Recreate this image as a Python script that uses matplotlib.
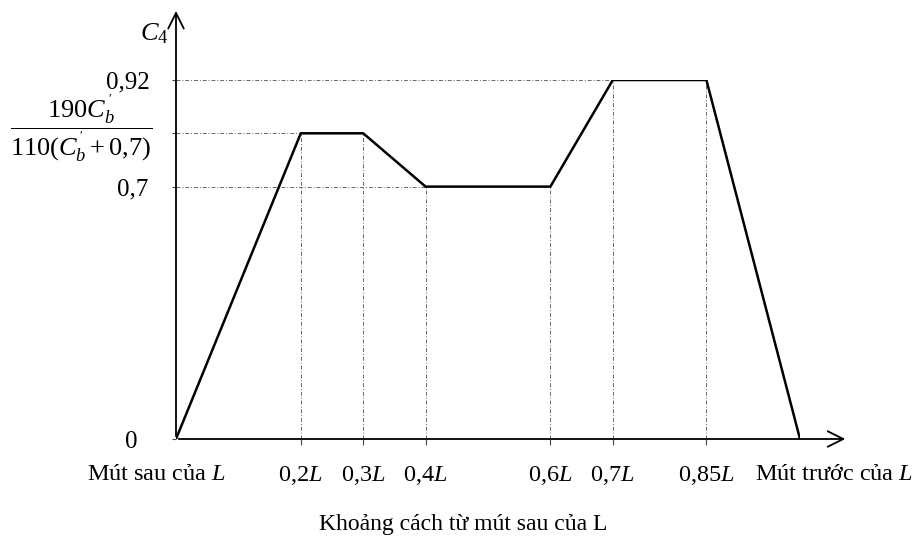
import matplotlib.pyplot as plt
import numpy as np

plt.rcParams['font.family'] = ['Liberation Serif', 'DejaVu Serif']
plt.rcParams['mathtext.fontset'] = 'custom'
plt.rcParams['mathtext.rm'] = 'Liberation Serif'
plt.rcParams['mathtext.it'] = 'Liberation Serif:italic'

# ---------------- data ----------------
x_pos = [0, 0.2, 0.3, 0.4, 0.6, 0.7, 0.85, 1.0]
c4 = [0, 0.81, 0.81, 0.7, 0.7, 0.92, 0.92, 0]

x_ticks = [0.2, 0.3, 0.4, 0.6, 0.7, 0.85]
x_labels = ["0,2$\\mathit{L}$", "0,3$\\mathit{L}$", "0,4$\\mathit{L}$",
            "0,6$\\mathit{L}$", "0,7$\\mathit{L}$", "0,85$\\mathit{L}$"]
end_labels = ["Mút sau của $\\mathit{L}$", "Mút trước của $\\mathit{L}$"]

y_ticks = [0, 0.7, 0.81, 0.92]
y_labels = ["0", "0,7", "", "0,92"]
frac_label = r"$\dfrac{190C_b^{\,'}}{110(C_b^{\,'}+0{,}7)}$"

# guide lines: (x where the level meets the curve, level)
h_guides = [(0.2, 0.81), (0.4, 0.7), (0.7, 0.92)]
v_guides = [(0.2, 0.81), (0.3, 0.81), (0.4, 0.7), (0.6, 0.7), (0.7, 0.92), (0.85, 0.92)]

# the drawing's vertical axis is not to scale
y_src = [-1, 0, 0.7, 0.92, 3]
y_dst = [-1, 0, 0.703, 1.0, 1.0 + (3 - 0.92) * 0.297 / 0.22]


def fwd(y):
    return np.interp(y, y_src, y_dst)


def inv(y):
    return np.interp(y, y_dst, y_src)


W, H = 916, 537
fig = plt.figure(figsize=(W / 100, H / 100), dpi=100)
ax = fig.add_axes([176 / W, 98 / H, 624 / W, 359 / H])
ax.set_yscale('function', functions=(fwd, inv))
ax.set_xlim(0, 1)
ax.set_ylim(0, 0.92)
for s in ax.spines.values():
    s.set_visible(False)

guide = dict(color='#666666', lw=0.7, ls=(0, (4, 2, 1, 2)))
for gx, gy in h_guides:
    ax.plot([0, gx], [gy, gy], **guide)
for gx, gy in v_guides:
    ax.plot([gx, gx], [0, gy], **guide)

ax.plot(x_pos, c4, color='black', lw=1.8, solid_joinstyle='miter')

# axes with arrows
arrow = dict(arrowstyle='->', color='black', lw=1.3, mutation_scale=28)
ax.annotate('', xy=(1.077, 0), xytext=(0, 0), xycoords='axes fraction',
            textcoords='axes fraction', arrowprops=arrow)
ax.annotate('', xy=(0, 1.2), xytext=(0, 0), xycoords='axes fraction',
            textcoords='axes fraction', arrowprops=arrow)

ax.set_xticks(x_ticks, x_labels, fontsize=17.5)
ax.tick_params(axis='x', length=4, width=0.8, pad=14, color='#444444')

for xv, lab in zip([-0.032, 1.055], end_labels):
    ax.annotate(lab, xy=(xv, 0), xycoords=ax.get_xaxis_transform(),
                xytext=(0, -18), textcoords='offset points',
                ha='center', va='top', fontsize=17.5, annotation_clip=False)

ax.set_yticks(y_ticks, y_labels, fontsize=18)
ax.tick_params(axis='y', length=3, width=0.8, color='#444444')
yt = ax.yaxis.get_major_ticks()
for t, p in zip(yt, [25, 17, 17, 16]):
    t.set_pad(p)

ax.annotate(frac_label, xy=(0, 0.81), xytext=(-24, 5), textcoords='offset pixels',
            ha='right', va='center', fontsize=19, annotation_clip=False)

ax.text(-0.012, 1.13, '$C_4$', transform=ax.transAxes, fontsize=19,
        ha='right', va='center')

ax.set_xlabel('Khoảng cách từ mút sau của L', fontsize=17)
ax.xaxis.set_label_coords(0.46, -0.21)

fig.savefig('out.png', dpi=100)
